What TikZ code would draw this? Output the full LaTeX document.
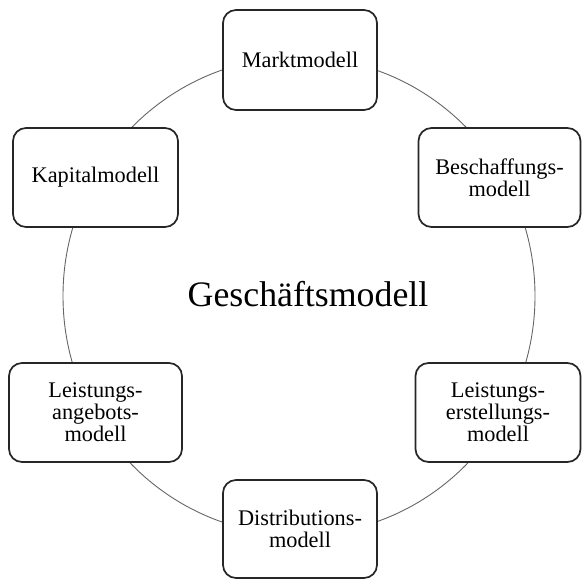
\documentclass[tikz,border=0pt]{standalone}
\usepackage{fontspec}
\setmainfont{Liberation Serif}
\begin{document}
\begin{tikzpicture}[x=1pt,y=-1pt,
  modbox/.style={draw=black!85, line width=1.7pt, rounded corners=13pt, fill=white,
    align=center, inner sep=0pt, font=\fontsize{22.3}{22}\selectfont},
  ring/.style={draw=black!60, line width=0.9pt}]
\useasboundingbox (0,0) rectangle (583,581);
\coordinate (c) at (299,296);
\draw[ring] (c) ellipse [x radius=236pt, y radius=239pt];
\node[modbox, minimum width=154pt, minimum height=100pt] (markt) at (300,60) {Marktmodell};
\node[modbox, minimum width=165pt, minimum height=99pt] (kapital) at (95.5,177.5) {Kapitalmodell};
\node[modbox, minimum width=162pt, minimum height=99pt] (besch) at (499.5,177.5) {Beschaffungs-\\modell};
\node[modbox, minimum width=173pt, minimum height=99pt] (angebot) at (95.5,412.5) {Leistungs-\\angebots-\\modell};
\node[modbox, minimum width=165pt, minimum height=99pt] (erst) at (498,412.5) {Leistungs-\\erstellungs-\\modell};
\node[modbox, minimum width=154pt, minimum height=98pt] (distr) at (300,529) {Distributions-\\modell};
\node[font=\fontsize{35.8}{38}\selectfont, anchor=base] (gm) at (308,306) {Geschäftsmodell};
\end{tikzpicture}
\end{document}
